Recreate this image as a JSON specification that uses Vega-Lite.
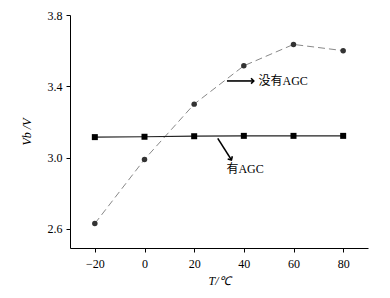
{
  "$schema": "https://vega.github.io/schema/vega-lite/v6.json",
  "width": 298,
  "height": 233,
  "autosize": {"type": "none"},
  "padding": {"left": 70, "top": 15, "right": 22, "bottom": 50},
  "background": "white",
  "config": {
    "view": {"stroke": null},
    "font": "Liberation Serif",
    "axis": {"grid": false, "domainColor": "#000", "tickColor": "#000", "labelColor": "#000", "titleColor": "#000", "labelFont": "Liberation Serif", "titleFont": "Liberation Serif", "labelFontSize": 12, "titleFontSize": 12, "titleFontWeight": "normal", "domainWidth": 1, "tickWidth": 1, "tickSize": 4}
  },
  "datasets": {
    "series": [
      {"T": -20, "V": 2.63, "s": "no"},
      {"T": 0, "V": 2.99, "s": "no"},
      {"T": 20, "V": 3.30, "s": "no"},
      {"T": 40, "V": 3.515, "s": "no"},
      {"T": 60, "V": 3.635, "s": "no"},
      {"T": 80, "V": 3.60, "s": "no"},
      {"T": -20, "V": 3.115, "s": "agc"},
      {"T": 0, "V": 3.117, "s": "agc"},
      {"T": 20, "V": 3.12, "s": "agc"},
      {"T": 40, "V": 3.122, "s": "agc"},
      {"T": 60, "V": 3.122, "s": "agc"},
      {"T": 80, "V": 3.122, "s": "agc"}
    ],
    "arrows": [
      {"x1": 33.2, "y1": 3.43, "x2": 44.0, "y2": 3.43, "id": "a"},
      {"x1": 29.5, "y1": 3.108, "x2": 35.0, "y2": 2.987, "id": "b"}
    ],
    "labels": [
      {"lx": 45.9, "ly": 3.43, "t": "没有AGC"},
      {"lx": 33.0, "ly": 2.936, "t": "有AGC"}
    ]
  },
  "layer": [
    {
      "data": {"name": "series"},
      "transform": [{"filter": "datum.s == 'no'"}],
      "mark": {"type": "line", "color": "#888", "strokeDash": [7, 4], "strokeWidth": 1},
      "encoding": {
        "x": {"field": "T", "type": "quantitative", "scale": {"domain": [-30, 90], "nice": false},
          "axis": {"values": [-20, 0, 20, 40, 60, 80], "labelOverlap": false, "labelFlush": false, "labelPadding": 6, "title": "T/℃", "titleFontStyle": "italic", "titlePadding": 6}},
        "y": {"field": "V", "type": "quantitative", "scale": {"domain": [2.493, 3.8], "nice": false, "zero": false},
          "axis": {"values": [2.6, 2.7, 2.8, 2.9, 3.0, 3.1, 3.2, 3.3, 3.4, 3.5, 3.6, 3.7, 3.8], "labelExpr": "round(datum.value*10) % 4 == 2 ? format(datum.value, '.1f') : ''", "labelOverlap": false, "labelFlush": false, "labelPadding": 4, "title": "Vb /V", "titleFontStyle": "italic", "titlePadding": 14}}
      }
    },
    {
      "data": {"name": "series"},
      "transform": [{"filter": "datum.s == 'no'"}],
      "mark": {"type": "point", "shape": "circle", "filled": true, "color": "#333", "size": 30, "opacity": 1},
      "encoding": {"x": {"field": "T", "type": "quantitative"}, "y": {"field": "V", "type": "quantitative"}}
    },
    {
      "data": {"name": "series"},
      "transform": [{"filter": "datum.s == 'agc'"}],
      "mark": {"type": "line", "color": "#222", "strokeWidth": 1.2},
      "encoding": {"x": {"field": "T", "type": "quantitative"}, "y": {"field": "V", "type": "quantitative"}}
    },
    {
      "data": {"name": "series"},
      "transform": [{"filter": "datum.s == 'agc'"}],
      "mark": {"type": "point", "shape": "square", "filled": true, "color": "#000", "size": 36, "opacity": 1},
      "encoding": {"x": {"field": "T", "type": "quantitative"}, "y": {"field": "V", "type": "quantitative"}}
    },
    {
      "data": {"name": "arrows"},
      "mark": {"type": "rule", "color": "#000", "strokeWidth": 1.6},
      "encoding": {"x": {"field": "x1", "type": "quantitative"}, "y": {"field": "y1", "type": "quantitative"}, "x2": {"field": "x2"}, "y2": {"field": "y2"}}
    },
    {
      "data": {"name": "arrows"},
      "transform": [{"filter": "datum.id == 'a'"}],
      "mark": {"type": "point", "shape": "M -0.7 0.7 L 0 0 L 0.7 0.7", "filled": false, "color": "#000", "strokeWidth": 1.6, "size": 60, "angle": 90, "opacity": 1},
      "encoding": {"x": {"field": "x2", "type": "quantitative"}, "y": {"field": "y2", "type": "quantitative"}}
    },
    {
      "data": {"name": "arrows"},
      "transform": [{"filter": "datum.id == 'b'"}],
      "mark": {"type": "point", "shape": "M -0.7 0.7 L 0 0 L 0.7 0.7", "filled": false, "color": "#000", "strokeWidth": 1.6, "size": 60, "angle": 149, "opacity": 1},
      "encoding": {"x": {"field": "x2", "type": "quantitative"}, "y": {"field": "y2", "type": "quantitative"}}
    },
    {
      "data": {"name": "labels"},
      "mark": {"type": "text", "align": "left", "baseline": "middle", "font": "Liberation Serif, Noto Sans CJK SC", "fontSize": 12, "color": "#000"},
      "encoding": {"x": {"field": "lx", "type": "quantitative"}, "y": {"field": "ly", "type": "quantitative"}, "text": {"field": "t"}}
    }
  ]
}
